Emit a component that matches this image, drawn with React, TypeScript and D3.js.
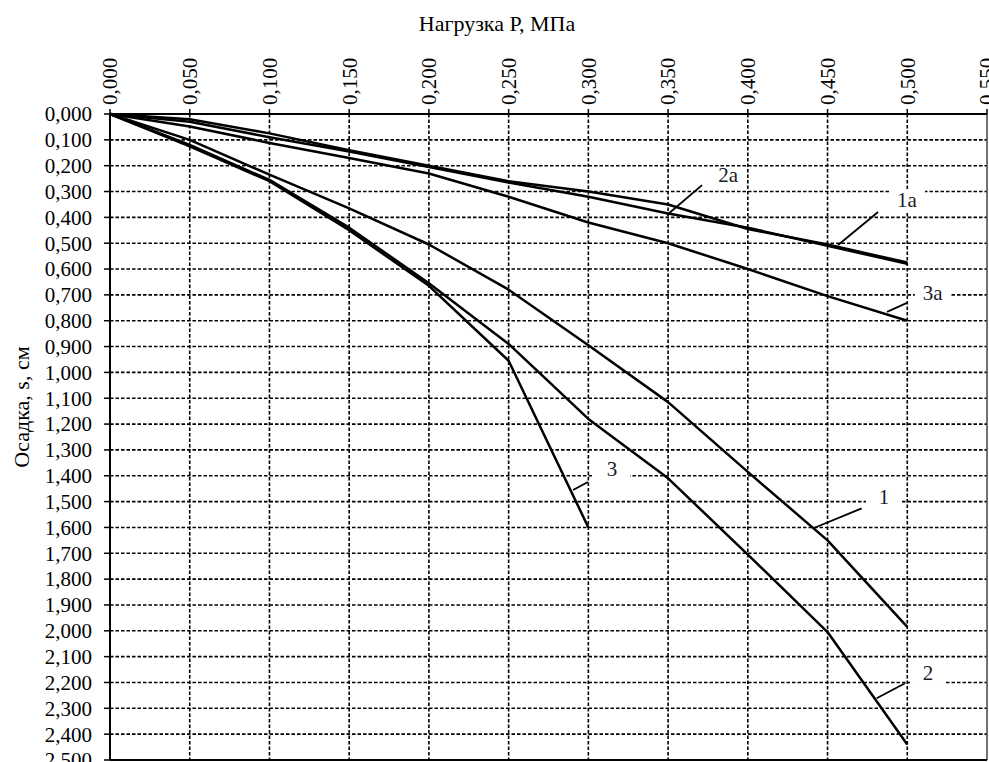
import React from "react";
import * as d3 from "d3";

const loads = [0, 0.05, 0.1, 0.15, 0.2, 0.25, 0.3, 0.35, 0.4, 0.45, 0.5];
const s1 = [0, 0.1, 0.235, 0.365, 0.505, 0.68, 0.895, 1.115, 1.385, 1.65, 1.985];
const s2 = [0, 0.12, 0.255, 0.44, 0.655, 0.89, 1.18, 1.41, 1.705, 2.005, 2.44];
const s3 = [0, 0.125, 0.26, 0.45, 0.665, 0.955, 1.6];
const s1a = [0, 0.02, 0.075, 0.14, 0.2, 0.26, 0.3, 0.35, 0.445, 0.505, 0.575];
const s2a = [0, 0.03, 0.09, 0.145, 0.205, 0.265, 0.32, 0.385, 0.44, 0.51, 0.58];
const s3a = [0, 0.048, 0.112, 0.17, 0.23, 0.32, 0.42, 0.5, 0.6, 0.705, 0.8];

const seriesList = [s1, s2, s3, s1a, s2a, s3a];

const xTicks = [0, 0.05, 0.1, 0.15, 0.2, 0.25, 0.3, 0.35, 0.4, 0.45, 0.5, 0.55];
const yTicks = d3.range(0, 26).map((i) => i / 10);

const labelNames = ["2a", "1a", "3a", "3", "1", "2"];
const labelPos = [
  [0.3876, 0.236],
  [0.4998, 0.333],
  [0.516, 0.693],
  [0.3148, 1.374],
  [0.4854, 1.482],
  [0.513, 2.163],
];
const leaderFrom = [
  [0.3713, 0.275],
  [0.4817, 0.379],
  [0.4998, 0.731],
  [0.2998, 1.424],
  [0.4714, 1.526],
  [0.4986, 2.203],
];
const leaderTo = [
  [0.3493, 0.391],
  [0.4566, 0.507],
  [0.4873, 0.766],
  [0.2904, 1.455],
  [0.4411, 1.603],
  [0.4808, 2.261],
];
const labelBoxed = [false, true, true, true, true, true];

const xTitle = "Нагрузка Р, МПа";
const yTitle = "Осадка, s, см";

const W = 989;
const H = 762;
const left = 110;
const right = 987;
const top = 114;
const bottom = 760;

const fmt = (v: number) => d3.format(".3f")(v).replace(".", ",");

export default function App() {
  const x = d3.scaleLinear().domain([0, 0.55]).range([left, right]);
  const y = d3.scaleLinear().domain([0, 2.5]).range([top, bottom]);
  const line = d3
    .line<number>()
    .x((_, i) => x(loads[i]))
    .y((d) => y(d));
  const font = "'Liberation Serif', 'Times New Roman', serif";

  return (
    <svg
      width={W}
      height={H}
      style={{ position: "absolute", left: 0, top: 0, display: "block", background: "#fff" }}
      fontFamily={font}
    >
      <rect x={0} y={0} width={W} height={H} fill="#fff" />
      {yTicks.slice(1).map((t) => (
        <line
          key={"gy" + t}
          x1={left}
          x2={right}
          y1={y(t)}
          y2={y(t)}
          stroke="#000"
          strokeWidth={1.6}
          strokeDasharray="3.5,2"
        />
      ))}
      {xTicks.slice(1, -1).map((t) => (
        <line
          key={"gx" + t}
          x1={x(t)}
          x2={x(t)}
          y1={top}
          y2={bottom}
          stroke="#000"
          strokeWidth={1.6}
          strokeDasharray="3.5,2"
        />
      ))}
      {yTicks.map((t) => (
        <line key={"ty" + t} x1={left - 6} x2={left} y1={y(t)} y2={y(t)} stroke="#000" strokeWidth={1.5} />
      ))}
      {xTicks.map((t) => (
        <line key={"tx" + t} x1={x(t)} x2={x(t)} y1={top - 5} y2={top} stroke="#000" strokeWidth={1.5} />
      ))}
      <line x1={right} x2={right} y1={top} y2={bottom} stroke="#444" strokeWidth={1.5} />
      <line x1={left} x2={right} y1={bottom} y2={bottom} stroke="#000" strokeWidth={2} />
      <line x1={left} x2={right} y1={top} y2={top} stroke="#000" strokeWidth={2} />
      <line x1={left} x2={left} y1={top} y2={bottom} stroke="#000" strokeWidth={2} />
      {yTicks.map((t) => (
        <text key={"ly" + t} x={left - 18} y={y(t)} dy="0.35em" textAnchor="end" fontSize={21} fill="#000">
          {fmt(t)}
        </text>
      ))}
      {xTicks.map((t) => (
        <text
          key={"lx" + t}
          transform={`translate(${x(t)},${top - 9}) rotate(-90)`}
          dy="0.35em"
          textAnchor="start"
          fontSize={21}
          fill="#000"
        >
          {fmt(t)}
        </text>
      ))}
      {labelNames.map((n, i) =>
        labelBoxed[i] ? (
          <rect
            key={"bx" + n}
            x={x(labelPos[i][0]) - 18}
            y={y(labelPos[i][1]) - 11}
            width={36}
            height={22}
            fill="#fff"
          />
        ) : null
      )}
      {seriesList.map((s, i) => (
        <path key={"c" + i} d={line(s) || ""} fill="none" stroke="#000" strokeWidth={2.5} strokeLinejoin="round" />
      ))}
      {labelNames.map((n, i) => (
        <line
          key={"ld" + n}
          x1={x(leaderFrom[i][0])}
          y1={y(leaderFrom[i][1])}
          x2={x(leaderTo[i][0])}
          y2={y(leaderTo[i][1])}
          stroke="#000"
          strokeWidth={1.8}
        />
      ))}
      {labelNames.map((n, i) => (
        <text
          key={"lt" + n}
          x={x(labelPos[i][0])}
          y={y(labelPos[i][1])}
          dy="0.35em"
          textAnchor="middle"
          fontSize={21}
          fill="#1a1a2a"
        >
          {n}
        </text>
      ))}
      <text x={497} y={31} textAnchor="middle" fontSize={22} fill="#000">
        {xTitle}
      </text>
      <text transform={`translate(29,407) rotate(-90)`} textAnchor="middle" fontSize={22} fill="#000">
        {yTitle}
      </text>
    </svg>
  );
}
